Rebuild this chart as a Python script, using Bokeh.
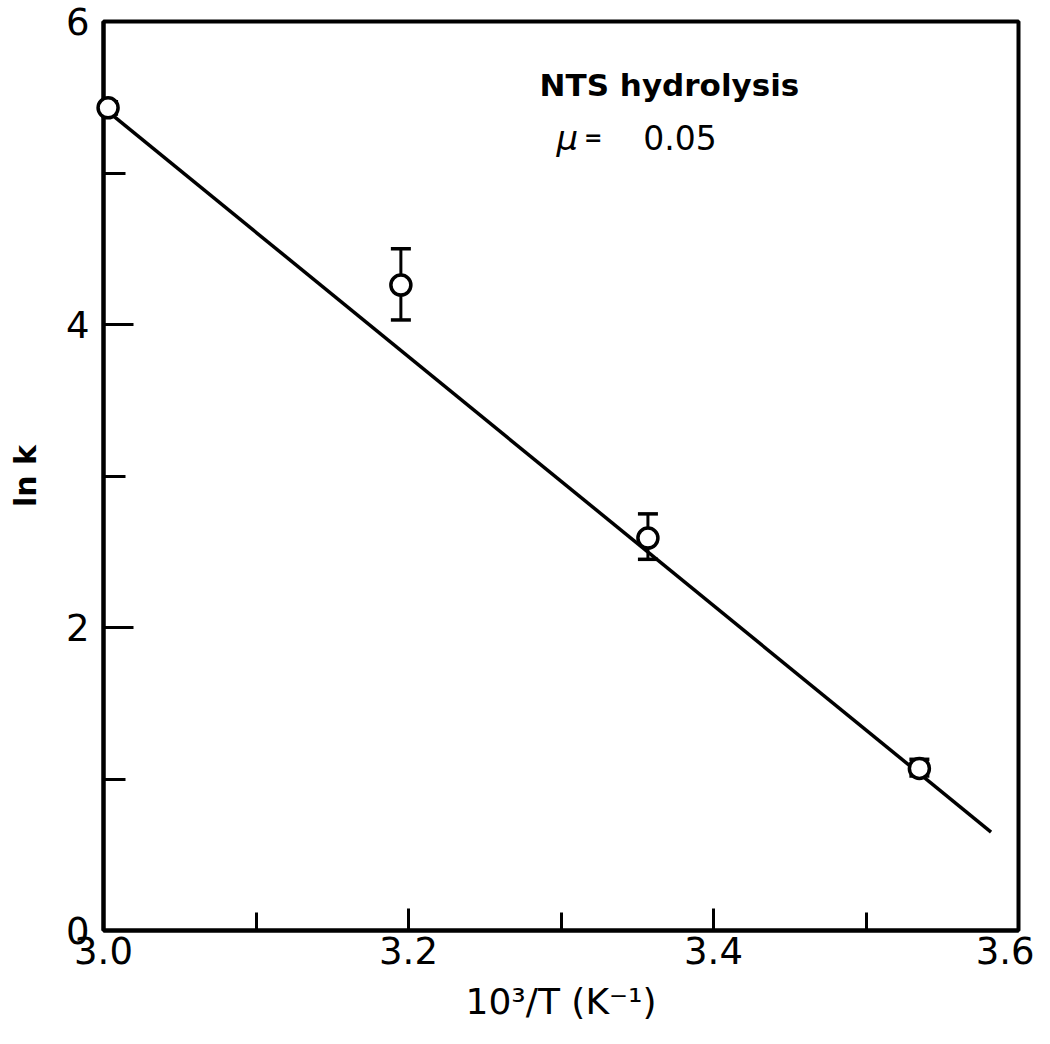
from bokeh.plotting import figure
from bokeh.models import ColumnDataSource, Whisker, TeeHead, Label, Range1d, FixedTicker
from bokeh.embed import file_html
from bokeh.resources import INLINE

# data
inv_T = [3.003, 3.195, 3.357, 3.535]
ln_k = [5.43, 4.26, 2.59, 1.07]
err_up = [5.47, 4.50, 2.75, 1.13]
err_lo = [5.39, 4.03, 2.45, 1.02]
fit_x = [3.0, 3.582]
fit_y = [5.43, 0.65]
x_ticks = [3.0, 3.2, 3.4, 3.6]
x_minor = [3.1, 3.3, 3.5]
y_ticks = [0, 2, 4, 6]
y_minor = [1, 3, 5]

FONT = "DejaVu Sans"

p = figure(width=1034, height=1028, output_backend="svg", toolbar_location=None,
           x_range=Range1d(3.0, 3.6), y_range=Range1d(0, 6),
           min_border_left=103, min_border_right=16, min_border_top=21, min_border_bottom=98)
p.background_fill_color = "white"
p.border_fill_color = "white"
p.grid.visible = False
p.outline_line_color = "black"
p.outline_line_width = 4

p.xaxis.ticker = FixedTicker(ticks=x_ticks, minor_ticks=x_minor)
p.yaxis.ticker = FixedTicker(ticks=y_ticks, minor_ticks=y_minor)
p.xaxis.major_label_overrides = {3.0: "3.0", 3.2: "3.2", 3.4: "3.4", 3.6: "3.6"}
p.yaxis.major_label_overrides = {0: "0", 2: "2", 4: "4", 6: "6"}

for ax in (p.xaxis, p.yaxis):
    ax.axis_line_width = 4
    ax.axis_line_color = "black"
    ax.major_tick_line_width = 3
    ax.minor_tick_line_width = 3
    ax.major_tick_line_color = "black"
    ax.minor_tick_line_color = "black"
    ax.major_tick_out = 0
    ax.minor_tick_out = 0
    ax.major_label_text_font = FONT
    ax.major_label_text_font_size = "37px"
    ax.major_label_text_color = "black"
    ax.axis_label_text_font = FONT
    ax.axis_label_text_color = "black"

p.xaxis.major_tick_in = 22
p.xaxis.minor_tick_in = 18
p.yaxis.major_tick_in = 30
p.yaxis.minor_tick_in = 22
p.xaxis.major_label_standoff = 6
p.yaxis.major_label_standoff = 14

p.xaxis.axis_label = "10³/T (K⁻¹)"
p.xaxis.axis_label_text_font_size = "36px"
p.xaxis.axis_label_text_font_style = "normal"
p.xaxis.axis_label_standoff = 14

p.yaxis.axis_label = "ln k"
p.yaxis.axis_label_text_font_size = "30px"
p.yaxis.axis_label_text_font_style = "bold"
p.yaxis.axis_label_standoff = 20

# fitted line
p.line(fit_x, fit_y, line_color="black", line_width=3.5)

src = ColumnDataSource(data=dict(x=inv_T, y=ln_k, up=err_up, lo=err_lo))
wh = Whisker(base="x", upper="up", lower="lo", source=src, line_color="black", line_width=3,
             upper_head=TeeHead(size=20, line_width=3.5, line_color="black"),
             lower_head=TeeHead(size=20, line_width=3.5, line_color="black"))
p.add_layout(wh)
r = p.scatter("x", "y", source=src, marker="circle", size=20, fill_color="white",
              line_color="black", line_width=3.5)
r.level = "overlay"

p.add_layout(Label(x=3.3711, y=5.578, text="NTS hydrolysis", text_align="center",
                   text_baseline="alphabetic", text_font=FONT, text_font_style="bold",
                   text_font_size="31px", text_color="black"))
p.add_layout(Label(x=3.297, y=5.234, text="μ", text_align="left",
                   text_baseline="alphabetic", text_font=FONT, text_font_style="italic",
                   text_font_size="34px", text_color="black"))
p.add_layout(Label(x=3.315, y=5.234, text="=", text_align="left",
                   text_baseline="alphabetic", text_font=FONT, text_font_style="bold",
                   text_font_size="22px", text_color="black"))
p.add_layout(Label(x=3.354, y=5.234, text="0.05", text_align="left",
                   text_baseline="alphabetic", text_font=FONT, text_font_style="normal",
                   text_font_size="33px", text_color="black"))

open("out.html", "w").write(file_html(p, INLINE))
